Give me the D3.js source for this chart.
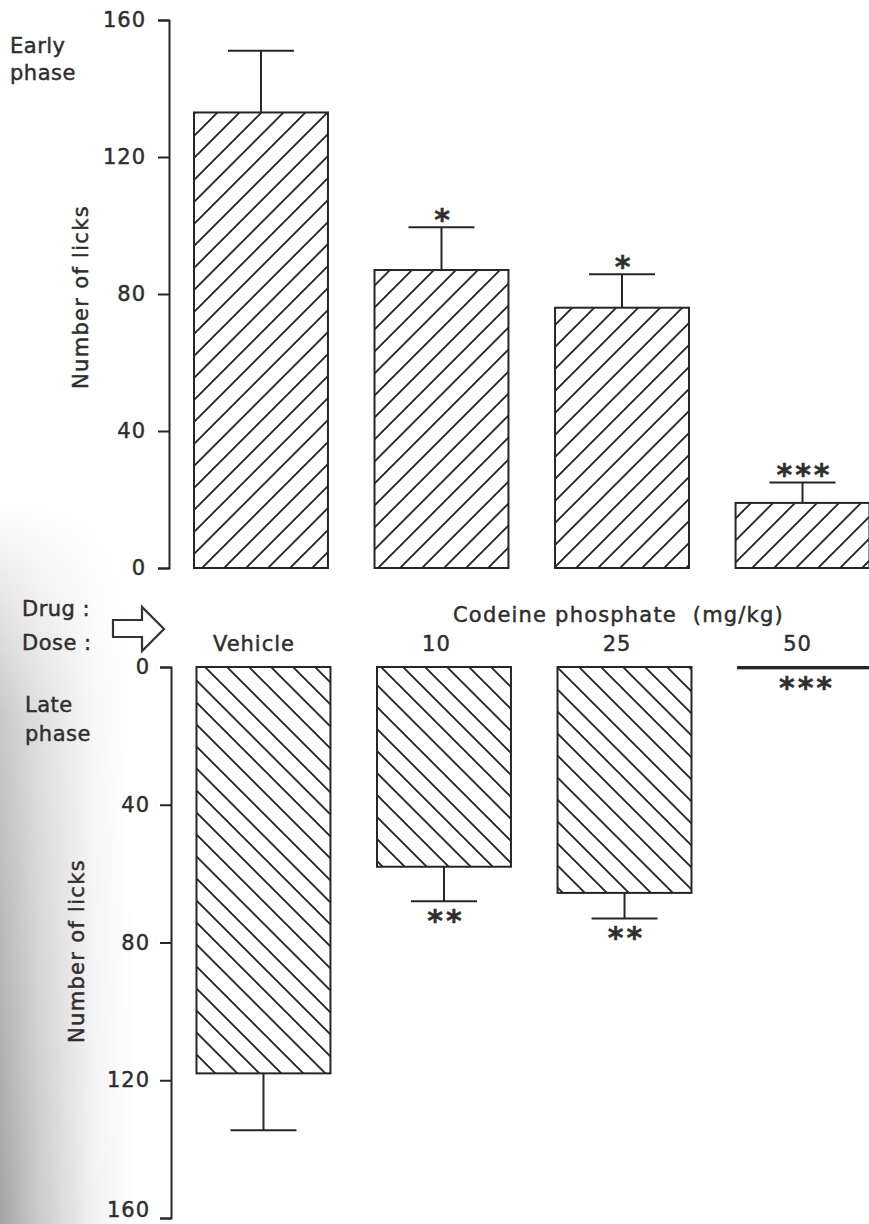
<!DOCTYPE html>
<html>
<head>
<meta charset="utf-8">
<script src="https://cdn.jsdelivr.net/npm/d3@7"></script>
<style>
  html, body { margin: 0; padding: 0; background: #fff; }
  svg { display: block; }
  text { font-family: "DejaVu Sans", sans-serif; fill: #2e2e2e; stroke: #2e2e2e; stroke-width: 0.45px; }
</style>
</head>
<body>
<script>
// ---- data ----
const doses = ["Vehicle", "10", "25", "50"];
const earlyMean = [133, 87, 76, 19];
const earlySem = [18, 12.5, 9.8, 6];
const earlySig = ["", "*", "*", "***"];
const lateMean = [118, 58, 65.6, 0.4];
const lateSem = [16.5, 10, 7.4, 0];
const lateSig = ["", "**", "**", "***"];
const yTicks = [0, 40, 80, 120, 160];
const drugLabel = "Codeine phosphate  (mg/kg)";

const W = 869, H = 1224;
const ink = "#262626";
const svg = d3.select("body").append("svg").attr("width", W).attr("height", H);
const defs = svg.append("defs");

// scan shadow on the left edge
const gH = defs.append("linearGradient").attr("id", "shadeH").attr("x1", 0).attr("x2", 1).attr("y1", 0).attr("y2", 0);
gH.append("stop").attr("offset", 0).attr("stop-color", "#000").attr("stop-opacity", 0.36);
gH.append("stop").attr("offset", 0.3).attr("stop-color", "#000").attr("stop-opacity", 0.2);
gH.append("stop").attr("offset", 0.7).attr("stop-color", "#000").attr("stop-opacity", 0.05);
gH.append("stop").attr("offset", 1).attr("stop-color", "#000").attr("stop-opacity", 0);
const gV = defs.append("linearGradient").attr("id", "shadeV").attr("x1", 0).attr("x2", 0).attr("y1", 0).attr("y2", 1);
gV.append("stop").attr("offset", 0).attr("stop-color", "#fff").attr("stop-opacity", 0);
gV.append("stop").attr("offset", 0.3).attr("stop-color", "#fff").attr("stop-opacity", 0.6);
gV.append("stop").attr("offset", 1).attr("stop-color", "#fff").attr("stop-opacity", 1);
defs.append("mask").attr("id", "shadeMask")
  .append("rect").attr("x", 0).attr("y", 500).attr("width", 135).attr("height", H - 500).attr("fill", "url(#shadeV)");
svg.append("rect").attr("x", 0).attr("y", 500).attr("width", 135).attr("height", H - 500)
  .attr("fill", "url(#shadeH)").attr("mask", "url(#shadeMask)");

// hatch patterns
function hatch(id, dir) {
  const s = 22;
  const p = defs.append("pattern").attr("id", id).attr("patternUnits", "userSpaceOnUse")
    .attr("width", s).attr("height", s);
  const d = dir > 0
    ? `M-4,${s + 4} L${s + 4},-4 M-4,4 L4,-4 M${s - 4},${s + 4} L${s + 4},${s - 4}`
    : `M-4,-4 L${s + 4},${s + 4} M${s - 4},-4 L${s + 4},4 M-4,${s - 4} L4,${s + 4}`;
  p.append("path").attr("d", d).attr("stroke", ink).attr("stroke-width", 1.9).attr("fill", "none");
}
hatch("hatchUp", 1);
hatch("hatchDown", -1);

// scales
const xTop = d3.scaleBand().domain(doses).range([194, 869.5]).paddingInner(0.258).paddingOuter(0);
const xBot = d3.scaleBand().domain(doses).range([196.5, 872]).paddingInner(0.258).paddingOuter(0);
const yTop = d3.scaleLinear().domain([0, 160]).range([568, 20]);
const yBot = d3.scaleLinear().domain([0, 160]).range([667, 1218]);

function styleAxis(g) {
  g.selectAll("path.domain").attr("stroke", ink).attr("stroke-width", 2).attr("fill", "none");
  g.selectAll(".tick line").attr("stroke", ink).attr("stroke-width", 2);
  g.selectAll(".tick text").attr("font-size", 21).attr("letter-spacing", 1)
    .attr("font-family", "DejaVu Sans").attr("fill", "#2e2e2e");
}

const axTop = d3.axisLeft(yTop).tickValues(yTicks).tickFormat(d3.format("d"))
  .tickSize(11).tickSizeOuter(11).tickPadding(12);
svg.append("g").attr("transform", "translate(169,0)").call(axTop).call(styleAxis);

const axBot = d3.axisLeft(yBot).tickValues(yTicks).tickFormat(d3.format("d"))
  .tickSize(11).tickSizeOuter(11).tickPadding(10);
svg.append("g").attr("transform", "translate(171,0)").call(axBot).call(styleAxis)
  .selectAll(".tick text").filter(d => d === 160).attr("dy", "-0.05em");

// top (early phase) bars
const early = doses.map((d, i) => ({ dose: d, m: earlyMean[i], s: earlySem[i], sig: earlySig[i] }));
const late = doses.map((d, i) => ({ dose: d, m: lateMean[i], s: lateSem[i], sig: lateSig[i] }));

const gE = svg.append("g");
gE.selectAll("line.err").data(early.filter(d => d.s > 0)).join("line")
  .attr("x1", d => xTop(d.dose) + xTop.bandwidth() / 2).attr("x2", d => xTop(d.dose) + xTop.bandwidth() / 2)
  .attr("y1", d => yTop(d.m)).attr("y2", d => yTop(d.m + d.s))
  .attr("stroke", ink).attr("stroke-width", 2);
gE.selectAll("line.cap").data(early.filter(d => d.s > 0)).join("line")
  .attr("x1", d => xTop(d.dose) + xTop.bandwidth() / 2 - 33).attr("x2", d => xTop(d.dose) + xTop.bandwidth() / 2 + 33)
  .attr("y1", d => yTop(d.m + d.s)).attr("y2", d => yTop(d.m + d.s))
  .attr("stroke", ink).attr("stroke-width", 2);
gE.selectAll("rect").data(early).join("rect")
  .attr("x", d => xTop(d.dose)).attr("width", xTop.bandwidth())
  .attr("y", d => yTop(d.m)).attr("height", d => yTop(0) - yTop(d.m))
  .attr("fill", "url(#hatchUp)").attr("stroke", ink).attr("stroke-width", 2);
gE.selectAll("text.sig").data(early.filter(d => d.sig)).join("text")
  .attr("x", d => xTop(d.dose) + xTop.bandwidth() / 2 + 2)
  .attr("y", d => yTop(d.m + d.s) + 3)
  .attr("text-anchor", "middle").attr("font-size", 30).attr("font-weight", "bold")
  .attr("letter-spacing", 3).text(d => d.sig);

// bottom (late phase) bars
const gL = svg.append("g");
gL.selectAll("line.err").data(late.filter(d => d.s > 0)).join("line")
  .attr("x1", d => xBot(d.dose) + xBot.bandwidth() / 2).attr("x2", d => xBot(d.dose) + xBot.bandwidth() / 2)
  .attr("y1", d => yBot(d.m)).attr("y2", d => yBot(d.m + d.s))
  .attr("stroke", ink).attr("stroke-width", 2);
gL.selectAll("line.cap").data(late.filter(d => d.s > 0)).join("line")
  .attr("x1", d => xBot(d.dose) + xBot.bandwidth() / 2 - 33).attr("x2", d => xBot(d.dose) + xBot.bandwidth() / 2 + 33)
  .attr("y1", d => yBot(d.m + d.s)).attr("y2", d => yBot(d.m + d.s))
  .attr("stroke", ink).attr("stroke-width", 2);
gL.selectAll("rect").data(late).join("rect")
  .attr("x", d => xBot(d.dose)).attr("width", xBot.bandwidth())
  .attr("y", d => yBot(0)).attr("height", d => yBot(d.m) - yBot(0))
  .attr("fill", "url(#hatchDown)").attr("stroke", ink).attr("stroke-width", 2);
gL.selectAll("text.sig").data(late.filter(d => d.sig)).join("text")
  .attr("x", d => xBot(d.dose) + xBot.bandwidth() / 2 + 2)
  .attr("y", d => yBot(d.m + d.s) + 30)
  .attr("text-anchor", "middle").attr("font-size", 30).attr("font-weight", "bold")
  .attr("letter-spacing", 3).text(d => d.sig);

// dose labels
svg.selectAll("text.dose").data(doses).join("text")
  .attr("x", d => xTop(d) + xTop.bandwidth() / 2 - (d === "Vehicle" ? 7 : 5))
  .attr("y", 651).attr("text-anchor", "middle").attr("font-size", 21).attr("letter-spacing", 1)
  .text(d => d);

svg.append("text").attr("x", 453).attr("y", 622).attr("font-size", 21).attr("letter-spacing", 1.2)
  .attr("xml:space", "preserve").style("white-space", "pre").text(drugLabel);

// left labels
const leftLabels = [
  { t: "Early", x: 10, y: 53 },
  { t: "phase", x: 10, y: 80 },
  { t: "Drug :", x: 22, y: 616 },
  { t: "Dose :", x: 22, y: 650 },
  { t: "Late", x: 25, y: 712 },
  { t: "phase", x: 25, y: 741 }
];
svg.selectAll("text.left").data(leftLabels).join("text")
  .attr("x", d => d.x).attr("y", d => d.y).attr("font-size", 21).attr("letter-spacing", 0.5)
  .text(d => d.t);

// y-axis titles
[[88, 297], [84, 951]].forEach(([cx, cy]) => {
  svg.append("text").attr("transform", `translate(${cx},${cy}) rotate(-90)`)
    .attr("text-anchor", "middle").attr("font-size", 21).attr("letter-spacing", 1.3)
    .text("Number of licks");
});

// outline arrow
svg.append("path")
  .attr("d", "M113,620 L142,620 L142,607 L164,629 L142,651 L142,637 L113,637 Z")
  .attr("fill", "#fff").attr("stroke", "#333").attr("stroke-width", 2.2).attr("stroke-linejoin", "miter");
</script>
</body>
</html>
